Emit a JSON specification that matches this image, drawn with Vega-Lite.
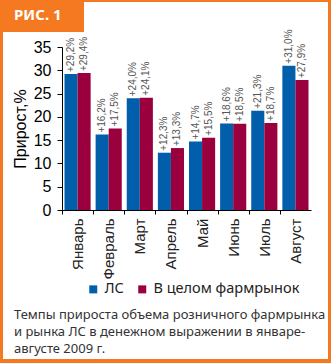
{
  "$schema": "https://vega.github.io/schema/vega-lite/v6.json",
  "width": 249,
  "height": 163,
  "autosize": {"type": "none"},
  "padding": {"left": 62, "top": 47, "right": 20, "bottom": 153},
  "background": "#F47920",
  "datasets": {
    "main": [
      {"month": "Январь", "series": "ЛС", "value": 29.2, "label": "+29,2%"},
      {"month": "Январь", "series": "В целом фармрынок", "value": 29.4, "label": "+29,4%"},
      {"month": "Февраль", "series": "ЛС", "value": 16.2, "label": "+16,2%"},
      {"month": "Февраль", "series": "В целом фармрынок", "value": 17.5, "label": "+17,5%"},
      {"month": "Март", "series": "ЛС", "value": 24.0, "label": "+24,0%"},
      {"month": "Март", "series": "В целом фармрынок", "value": 24.1, "label": "+24,1%"},
      {"month": "Апрель", "series": "ЛС", "value": 12.3, "label": "+12,3%"},
      {"month": "Апрель", "series": "В целом фармрынок", "value": 13.3, "label": "+13,3%"},
      {"month": "Май", "series": "ЛС", "value": 14.7, "label": "+14,7%"},
      {"month": "Май", "series": "В целом фармрынок", "value": 15.5, "label": "+15,5%"},
      {"month": "Июнь", "series": "ЛС", "value": 18.6, "label": "+18,6%"},
      {"month": "Июнь", "series": "В целом фармрынок", "value": 18.5, "label": "+18,5%"},
      {"month": "Июль", "series": "ЛС", "value": 21.3, "label": "+21,3%"},
      {"month": "Июль", "series": "В целом фармрынок", "value": 18.7, "label": "+18,7%"},
      {"month": "Август", "series": "ЛС", "value": 31.0, "label": "+31,0%"},
      {"month": "Август", "series": "В целом фармрынок", "value": 27.9, "label": "+27,9%"}
    ]
  },
  "layer": [
    {
      "data": {"values": [{}]},
      "mark": {"type": "rect", "fill": "#FFFFFF"},
      "encoding": {
        "x": {"value": -59},
        "x2": {"value": 266},
        "y": {"value": -45},
        "y2": {"value": 312}
      }
    },
    {
      "data": {"values": [{}]},
      "mark": {"type": "rect", "fill": "#F47920"},
      "encoding": {
        "x": {"value": -62},
        "x2": {"value": 22},
        "y": {"value": -47},
        "y2": {"value": -15}
      }
    },
    {
      "data": {"values": [{}]},
      "mark": {"type": "text", "font": "Noto Sans", "fontSize": 15, "fontWeight": "bold", "color": "#FFFFFF", "align": "left", "baseline": "alphabetic"},
      "encoding": {
        "x": {"value": -48},
        "y": {"value": -27},
        "text": {"value": "РИС. 1"}
      }
    },
    {
      "data": {"values": [{}]},
      "mark": {"type": "text", "font": "Noto Sans", "fontSize": 13, "color": "#333333", "align": "left", "baseline": "alphabetic", "lineHeight": 17},
      "encoding": {
        "x": {"value": -48},
        "y": {"value": 272},
        "text": {"value": ["Темпы прироста объема розничного фармрынка", "и рынка ЛС в денежном выражении в январе-", "августе 2009 г."]}
      }
    },
    {
      "data": {"name": "main"},
      "mark": {"type": "bar"},
      "encoding": {
        "x": {
          "field": "month",
          "type": "nominal",
          "sort": null,
          "scale": {"paddingInner": 0.16, "paddingOuter": 0.08},
          "axis": {
            "title": null,
            "zindex": 2,
            "labelAngle": -90,
            "labelAlign": "right",
            "labelBaseline": "middle",
            "labelFont": "Liberation Sans",
            "labelFontSize": 15,
            "labelColor": "#222222",
            "labelPadding": 4,
            "labelOverlap": false,
            "tickSize": 4,
            "tickColor": "#000000",
            "domainColor": "#000000",
            "tickOffset": -15.56,
            "labelOffset": 15.56
          }
        },
        "xOffset": {
          "field": "series",
          "type": "nominal",
          "sort": ["ЛС", "В целом фармрынок"],
          "scale": {"paddingInner": 0, "paddingOuter": 0}
        },
        "y": {
          "field": "value",
          "type": "quantitative",
          "scale": {"domain": [0, 35], "nice": false},
          "axis": {
            "title": "Прирост,%",
            "zindex": 2,
            "titleFont": "Liberation Sans",
            "titleFontSize": 16,
            "titleFontWeight": "normal",
            "titleColor": "#000000",
            "titlePadding": 5,
            "values": [0, 5, 10, 15, 20, 25, 30, 35],
            "tickCount": 8,
            "grid": false,
            "labelOverlap": false,
            "labelFlush": false,
            "labelFont": "Liberation Sans",
            "labelFontSize": 16,
            "labelColor": "#000000",
            "labelPadding": 6,
            "tickSize": 5,
            "tickColor": "#000000",
            "domainColor": "#000000"
          }
        },
        "color": {
          "field": "series",
          "type": "nominal",
          "sort": ["ЛС", "В целом фармрынок"],
          "scale": {"domain": ["ЛС", "В целом фармрынок"], "range": ["#005EAA", "#99003D"]},
          "legend": {
            "title": null,
            "orient": "none",
            "legendX": 24,
            "legendY": 235,
            "direction": "horizontal",
            "padding": 0,
            "symbolType": "square",
            "symbolSize": 64,
            "symbolStrokeWidth": 0,
            "symbolOpacity": 1,
            "labelFont": "Noto Sans",
            "labelFontSize": 14.5,
            "labelColor": "#222222",
            "labelOffset": 4,
            "columnPadding": 11
          }
        }
      }
    },
    {
      "data": {"name": "main"},
      "mark": {"type": "text", "angle": -90, "align": "left", "baseline": "middle", "dx": 2, "font": "Liberation Sans", "fontSize": 10, "color": "#555555"},
      "encoding": {
        "x": {"field": "month", "type": "nominal", "sort": null},
        "xOffset": {"field": "series", "type": "nominal", "sort": ["ЛС", "В целом фармрынок"]},
        "y": {
          "field": "value",
          "type": "quantitative",
          "scale": {"domain": [0, 35], "nice": false},
          "axis": {
            "title": "Прирост,%",
            "zindex": 2,
            "titleFont": "Liberation Sans",
            "titleFontSize": 16,
            "titleFontWeight": "normal",
            "titleColor": "#000000",
            "titlePadding": 5,
            "values": [0, 5, 10, 15, 20, 25, 30, 35],
            "tickCount": 8,
            "grid": false,
            "labelOverlap": false,
            "labelFlush": false,
            "labelFont": "Liberation Sans",
            "labelFontSize": 16,
            "labelColor": "#000000",
            "labelPadding": 6,
            "tickSize": 5,
            "tickColor": "#000000",
            "domainColor": "#000000"
          }
        },
        "text": {"field": "label"}
      }
    }
  ],
  "config": {
    "view": {"stroke": null}
  }
}
